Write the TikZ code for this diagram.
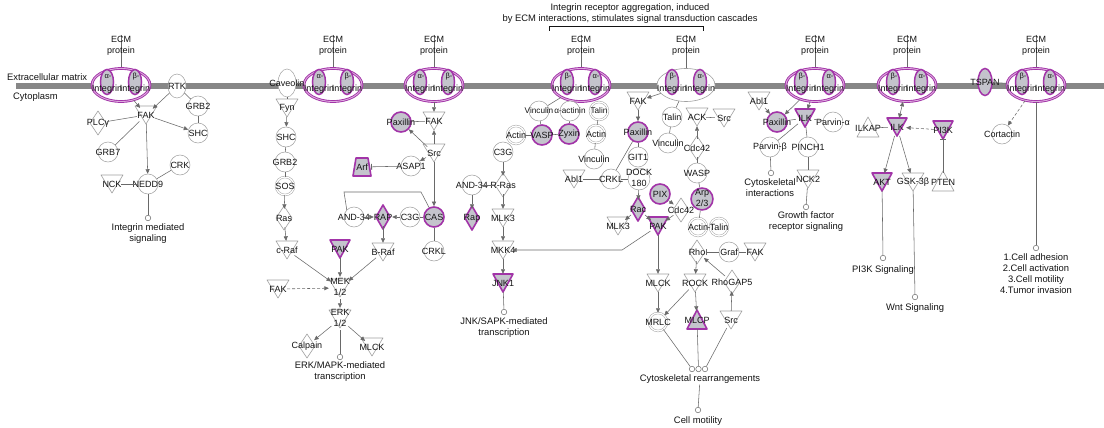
\documentclass[tikz,border=0pt]{standalone}
\usepackage{fontspec}
\setmainfont{Liberation Sans}
\usetikzlibrary{arrows.meta,shapes.geometric,calc}
\pgfdeclarelayer{bg}
\pgfsetlayers{bg,main}

\definecolor{ipapurple}{RGB}{162,52,168}
\definecolor{ipafill}{RGB}{196,196,204}
\definecolor{ipaline}{RGB}{160,160,160}
\definecolor{edgegray}{RGB}{105,105,105}
\definecolor{membr}{RGB}{135,135,135}
\definecolor{txt}{RGB}{20,20,20}
\definecolor{ringmid}{RGB}{222,170,222}

\newcommand\lbfont{\fontsize{9}{11}\selectfont}
\newcommand\fnfont{\fontsize{9.4}{11}\selectfont}
\newcommand\smfont{\fontsize{8.2}{10}\selectfont}
\newcommand\nlab[1]{\makebox[0pt]{#1}}
\newcommand\twol[2]{\makebox[0pt]{\begin{tabular}{@{}c@{}}#1\\#2\end{tabular}}}

\tikzset{
  nbase/.style={circle, inner sep=0pt, minimum size=20pt, font=\lbfont, text=txt},
  circ/.style={nbase, draw=ipaline, line width=0.5pt, fill=white},
  circH/.style={nbase, draw=ipapurple, line width=1.6pt, fill=ipafill},
  dcirc/.style={nbase, draw=ipaline, line width=0.45pt, double=white, double distance=1.3pt, fill=white, minimum size=18pt},
  gnode/.style={nbase, minimum size=18pt},
  fnode/.style={circle, draw=edgegray, fill=white, line width=0.5pt, minimum size=5.5pt, inner sep=0pt},
  ftext/.style={font=\fnfont, align=center, text=txt, inner sep=1pt},
  ln/.style={draw=edgegray, line width=0.55pt},
  act/.style={ln, -{Triangle[length=4.5pt,width=4pt]}},
  actboth/.style={ln, {Triangle[length=4.5pt,width=4pt]}-{Triangle[length=4.5pt,width=4pt]}},
  inh/.style={ln, -{Bar[width=6pt,line width=0.8pt]}},
  indir/.style={act, dash pattern=on 3pt off 2pt},
  gplain/.style={draw=ipaline, line width=0.6pt, fill=white, line join=round},
  gH/.style={draw=ipapurple, line width=1.6pt, fill=ipafill, line join=round},
  ringP/.style={ellipse, minimum width=58pt, minimum height=33pt, inner sep=0pt, draw=ipapurple, line width=0.9pt, double=ringmid, double distance=0.9pt, fill=white},
  ringG/.style={ellipse, minimum width=58pt, minimum height=33pt, inner sep=0pt, draw=ipaline, line width=0.6pt, fill=white},
  ibar/.style={ellipse, minimum width=13pt, minimum height=25pt, inner sep=0pt, draw=ipapurple, line width=1.5pt, fill=ipafill, font=\lbfont, text=txt},
  gk/.style={font=\fontsize{7.5}{8}\selectfont, text=txt, inner sep=0pt},
  itext/.style={font=\lbfont, text=txt, inner sep=0pt},
}

% integrin heterodimer sitting in the membrane, with its ECM ligand above
\newcommand\integ[5]{%
  \begin{scope}[shift={(#2,0)}]
    \node[#5] (#1) at (0,85) {};
    \node[ibar] (#1l) at (-14,82) {};
    \node[ibar] (#1r) at (14,82) {};
    \node[gk] (#1ga) at (-13,77) {#3-};
    \node[gk] (#1gb) at (15,77) {#4-};
    \node[itext] (#1ta) at (-14,89) {Integrin};
    \node[itext] (#1tb) at (14,89) {Integrin};
    \node[ftext, font=\lbfont] (#1e) at (0,45.5) {ECM\\protein};
    \begin{pgfonlayer}{bg}\draw[ln] (#1e.north) -- (#1.north);\end{pgfonlayer}
  \end{scope}}

\begin{document}
\begin{tikzpicture}[x=1pt,y=-1pt]
\useasboundingbox (0,0) rectangle (1104,428);
\begin{pgfonlayer}{bg}
  \fill[white] (0,0) rectangle (1104,428);
  \fill[membr] (16,83) rectangle (1104,89);
\end{pgfonlayer}

% header and bracket
\node[ftext] (hdr) at (630,14) {Integrin receptor aggregation, induced\\by ECM interactions, stimulates signal transduction cascades};
\coordinate (brA) at (549,31);
\coordinate (brB) at (703,31);
\draw[txt, line width=0.9pt] (brA) -- ++(0,-5) -| (brB);

% compartment labels
\node[itext, font=\fnfont, anchor=west] (ecmlab) at (7,77) {Extracellular matrix};
\node[itext, font=\fnfont, anchor=west] (cytlab) at (13,97) {Cytoplasm};

% integrin complexes
\integ{int1}{121}{α}{β}{ringP}
\integ{int2}{333}{α}{β}{ringP}
\integ{int3}{434}{α}{β}{ringP}
\integ{int4}{581}{β}{α}{ringP}
\integ{int5}{686}{β}{α}{ringG}
\integ{int6}{815}{β}{α}{ringP}
\integ{int7}{907}{β}{α}{ringP}
\integ{int8}{1036}{β}{α}{ringP}

% ---- FAK / RTK branch
\node[circ, ellipse, minimum width=18pt, minimum height=24pt] (rtk) at (177,86) {\nlab{RTK}};
\node[circ] (grbA) at (198,106) {\nlab{GRB2}};
\node[circ] (shcA) at (198,133) {\nlab{SHC}};
\node[gnode] (fakA) at (146,115) {\nlab{FAK}};
\node[gnode] (plcg) at (98,123) {\nlab{PLCγ}};
\node[circ] (grb7) at (108,152) {\nlab{GRB7}};
\node[circ] (crk) at (180,165) {\nlab{CRK}};
\node[circ] (nedd9) at (148,184) {\nlab{NEDD9}};
\node[gnode] (nck) at (112,184) {\nlab{NCK}};
\node[fnode] (imsd) at (148,218) {};
\node[ftext] (imst) at (148,233.5) {Integrin mediated\\signaling};

\draw[act] (int1) -- (fakA);
\draw[act] (rtk) -- (fakA);
\draw[ln] (rtk) -- (grbA);
\draw[ln] (grbA) -- (shcA);
\draw[act] (fakA) -- (shcA);
\draw[ln] (fakA) -- (plcg);
\draw[ln] (fakA) -- (grb7);
\draw[act] (fakA) -- (nedd9);
\draw[ln] (crk) -- (nedd9);
\draw[ln] (nck) -- (nedd9);
\draw[ln] (nedd9) -- (imsd);

% ---- Caveolin / ERK branch
\node[circ, ellipse, minimum width=18pt, minimum height=28pt] (cav) at (287,83) {\nlab{Caveolin}};
\node[gnode] (fyn) at (287,108) {\nlab{Fyn}};
\node[circ] (shcB) at (286,137) {\nlab{SHC}};
\node[circ] (grbB) at (285,162) {\nlab{GRB2}};
\node[dcirc] (sos) at (285,186) {\nlab{SOS}};
\node[gnode] (ras) at (284,218) {\nlab{Ras}};
\node[gnode] (craf) at (287,250) {\nlab{c-Raf}};
\node[gnode] (pakA) at (340,249) {\nlab{PAK}};
\node[gnode] (braf) at (383,252) {\nlab{B-Raf}};
\node[gnode] (mek) at (340,288) {\twol{MEK}{1/2}};
\node[gnode] (fakB) at (278,289) {\nlab{FAK}};
\node[gnode] (erk) at (340,319) {\twol{ERK}{1/2}};
\node[gnode] (calp) at (307,346) {\nlab{Calpain}};
\node[gnode] (mlckA) at (372,347) {\nlab{MLCK}};
\node[fnode] (erkd) at (340,357) {};
\node[ftext] (erkt) at (340,372) {ERK/MAPK-mediated\\transcription};

\draw[ln] (int2) -- (cav);
\draw[ln] (cav) -- (fyn);
\draw[act] (fyn) -- (shcB);
\draw[ln] (shcB) -- (grbB);
\draw[ln] (grbB) -- (sos);
\draw[act] (sos) -- (ras);
\draw[act] (ras) -- (craf);
\draw[act] (craf) -- (mek);
\draw[act] (pakA) -- (mek);
\draw[act] (braf) -- (mek);
\draw[indir] (fakB) -- (mek);
\draw[act] (mek) -- (erk);
\draw[act] (erk) -- (calp);
\draw[act] (erk) -- (mlckA);
\draw[ln] (erk) -- (erkd);

% ---- Src / CAS branch
\node[circH] (paxA) at (401,122) {\nlab{Paxillin}};
\node[gnode] (fakC) at (434,121) {\nlab{FAK}};
\node[gnode] (srcA) at (434,153) {\nlab{Src}};
\node[gnode] (arf) at (362,167) {\nlab{Arf}};
\node[circ] (asap) at (411,166) {\nlab{ASAP1}};
\node[circ] (andA) at (354,217) {\nlab{AND-34}};
\node[gnode] (rapA) at (383,217) {\nlab{RAP}};
\node[circ] (c3gA) at (410,217) {\nlab{C3G}};
\node[circH] (cas) at (434,217) {\nlab{CAS}};
\node[circ] (crklA) at (434,251) {\nlab{CRKL}};

\draw[act] (int3) -- (fakC);
\draw[ln] (paxA) -- (fakC);
\draw[act] (srcA) -- (fakC);
\draw[act] (srcA) -- (paxA);
\draw[act] (srcA) -- (asap);
\draw[inh] (asap) -- (arf);
\draw[act] (srcA) -- (cas);
\draw[act] (andA) -- (rapA);
\draw[act] (c3gA) -- (rapA);
\draw[ln] (c3gA) -- (cas);
\draw[ln] (cas) -- (crklA);
\draw[act] (rapA) -- (braf);
\draw[ln] (andA.north west) -- (344,192) -- (421,192) -- (cas);

% ---- R-Ras / JNK branch
\node[circ] (c3gB) at (503,152) {\nlab{C3G}};
\node[circ] (andB) at (472,185) {\nlab{AND-34}};
\node[gnode] (rras) at (503,185) {\nlab{R-Ras}};
\node[gnode] (rapB) at (472,218) {\nlab{Rap}};
\node[gnode] (mlkA) at (503,218) {\nlab{MLK3}};
\node[gnode] (mkk4) at (503,250) {\nlab{MKK4}};
\node[gnode] (jnk1) at (503,283) {\nlab{JNK1}};
\node[fnode] (jnkd) at (504,312) {};
\node[ftext] (jnkt) at (504,327.5) {JNK/SAPK-mediated\\transcription};

\draw[act] (andB) -- (rapB);
\draw[ln] (rras) -- (andB);
\draw[act] (c3gB) -- (rras);
\draw[act] (rras) -- (mlkA);
\draw[act] (mlkA) -- (mkk4);
\draw[act] (mkk4) -- (jnk1);
\draw[ln] (jnk1) -- (jnkd);

% ---- focal adhesion scaffold
\node[circ, font=\smfont] (vinA) at (539,111) {\nlab{Vinculin}};
\node[circ, font=\smfont] (actn) at (570,111) {\nlab{α-actinin}};
\node[dcirc, font=\smfont] (talA) at (599,111) {\nlab{Talin}};
\node[dcirc] (actA) at (516,135) {\nlab{Actin}};
\node[circH] (vasp) at (542,135) {\nlab{VASP}};
\node[circH] (zyx) at (569,134) {\nlab{Zyxin}};
\node[dcirc] (actB) at (596,134) {\nlab{Actin}};
\node[circ] (vinB) at (594,159) {\nlab{Vinculin}};
\node[gnode] (ablA) at (574,179) {\nlab{Abl1}};
\node[circ] (crklB) at (611,179) {\nlab{CRKL}};

\draw[ln] (int4) -- (vinA);
\draw[ln] (vinA) -- (vasp);
\draw[ln] (actA) -- (vasp);
\draw[ln] (vasp) -- (zyx);
\draw[ln] (actn) -- (zyx);
\draw[ln] (talA) -- (actB);
\draw[ln] (actB) -- (vinB);
\draw[ln] (ablA) -- (crklB);

% ---- Paxillin / Rac branch
\node[gnode] (fakD) at (638,101) {\nlab{FAK}};
\node[circH] (paxB) at (638,132) {\nlab{Paxillin}};
\node[circ] (git1) at (638,157) {\nlab{GIT1}};
\node[circ] (dock) at (639,179) {\twol{DOCK}{180}};
\node[circH] (pix) at (660,194) {\nlab{PIX}};
\node[gnode] (rac) at (638,209) {\nlab{Rac}};
\node[gnode] (cdcA) at (681,210) {\nlab{Cdc42}};
\node[gnode] (mlkB) at (618,226) {\nlab{MLK3}};
\node[gnode] (pakB) at (658,226) {\nlab{PAK}};

\draw[act] (int5) -- (fakD);
\draw[act] (fakD) -- (paxB);
\draw[ln] (paxB) -- (git1);
\draw[ln] (paxB) -- (crklB);
\draw[ln] (crklB) -- (dock);
\draw[act] (dock) -- (rac);
\draw[act] (pix) -- (cdcA);
\draw[act] (rac) -- (mlkB);
\draw[act] (rac) -- (pakB);
\draw[act] (cdcA) -- (pakB);
\draw[act] (pakB) -- (622,250) -- (mkk4);

% ---- Talin / Rho branch
\node[circ] (talB) at (672,117) {\nlab{Talin}};
\node[gnode] (ack) at (697,117) {\nlab{ACK}};
\node[gnode] (srcB) at (724,118) {\nlab{Src}};
\node[circ] (vinC) at (668,143) {\nlab{Vinculin}};
\node[gnode] (cdcB) at (697,148) {\nlab{Cdc42}};
\node[circ] (wasp) at (697,173) {\nlab{WASP}};
\node[circH] (arp) at (702,199) {\twol{Arp}{2/3}};
\node[dcirc] (actC) at (698,227) {\nlab{Actin}};
\node[dcirc] (talC) at (719,227) {\nlab{Talin}};
\node[gnode] (rho) at (697,252) {\nlab{Rho}};
\node[circ] (graf) at (729,252) {\nlab{Graf}};
\node[gnode] (fakE) at (755,252) {\nlab{FAK}};
\node[gnode] (rock) at (695,283) {\nlab{ROCK}};
\node[gnode] (rgap) at (732,282) {\nlab{RhoGAP5}};
\node[gnode] (mlckB) at (658,283) {\nlab{MLCK}};
\node[dcirc] (mrlc) at (658,322) {\nlab{MRLC}};
\node[gnode] (mlcp) at (697,320) {\nlab{MLCP}};
\node[gnode] (srcC) at (731,320) {\nlab{Src}};
\node[fnode] (cydA) at (692,369) {};
\node[fnode] (cydB) at (698.5,369) {};
\node[fnode] (cydC) at (705,369) {};
\node[ftext] (cyt) at (700,379) {Cytoskeletal rearrangements};
\node[fnode] (motd) at (698,410) {};
\node[ftext] (mott) at (698,421) {Cell motility};

\draw[ln] (int5) -- (talB);
\draw[ln] (talB) -- (vinC);
\draw[ln] (ack) -- (srcB);
\draw[act] (cdcB) -- (ack);
\draw[ln] (cdcB) -- (wasp);
\draw[ln] (wasp) -- (arp);
\draw[ln] (arp) -- (actC);
\draw[ln] (actC) -- (talC);
\draw[inh] (graf) -- (rho);
\draw[ln] (graf) -- (fakE);
\draw[act] (rgap) -- (rho);
\draw[act] (srcC) -- (rgap);
\draw[act] (rho) -- (rock);
\draw[act] (pakB) -- (mlckB);
\draw[act] (mlckB) -- (mrlc);
\draw[act] (rock) -- (mrlc);
\draw[act] (rock) -- (mlcp);
\draw[ln] (mrlc) -- (cydA);
\draw[ln] (mlcp) -- (cydB);
\draw[ln] (srcC) -- (cydC);
\draw[ln] (cyt) -- (motd);

% ---- ILK / Parvin branch
\node[gnode] (ablB) at (759,101) {\nlab{Abl1}};
\node[circH] (paxC) at (777,122) {\nlab{Paxillin}};
\node[gnode] (ilkA) at (805,118) {\nlab{ILK}};
\node[circ] (parva) at (833,122) {\nlab{Parvin-α}};
\node[circ] (parvb) at (770,147) {\nlab{Parvin-β}};
\node[circ] (pinch) at (808,147) {\nlab{PINCH1}};
\node[fnode] (cid) at (771,173) {};
\node[ftext] (cit) at (770,188) {Cytoskeletal\\interactions};
\node[gnode] (nck2) at (808,179) {\nlab{NCK2}};
\node[fnode] (gfd) at (806,207) {};
\node[ftext] (gft) at (806,221.5) {Growth factor\\receptor signaling};

\draw[act] (ablB) -- (paxC);
\draw[act] (int6) -- (paxC);
\draw[act] (int6) -- (ilkA);
\draw[ln] (paxC) -- (ilkA);
\draw[ln] (ilkA) -- (parva);
\draw[ln] (ilkA) -- (parvb);
\draw[ln] (ilkA) -- (pinch);
\draw[ln] (parvb) -- (cid);
\draw[ln] (pinch) -- (nck2);
\draw[ln] (nck2) -- (gfd);

% ---- ILK / AKT branch
\node[gnode] (ilkap) at (868,128) {\nlab{ILKAP}};
\node[gnode] (ilkB) at (897,127) {\nlab{ILK}};
\node[gnode] (pi3k) at (943,130) {\nlab{PI3K}};
\node[gnode] (akt) at (882,182) {\nlab{AKT}};
\node[gnode] (gsk) at (913,182) {\nlab{GSK-3β}};
\node[gnode] (pten) at (943,182) {\nlab{PTEN}};
\node[fnode] (pikd) at (883,258) {};
\node[ftext] (pikt) at (883,270) {PI3K Signaling};
\node[fnode] (wntd) at (915,297) {};
\node[ftext] (wntt) at (915,308) {Wnt Signaling};

\draw[actboth] (int7) -- (ilkB);
\draw[ln] (ilkap) -- (ilkB);
\draw[indir] (pi3k) -- (ilkB);
\draw[inh] (pten) -- (pi3k);
\draw[act] (ilkB) -- (akt);
\draw[act] (ilkB) -- (gsk);
\draw[ln] (akt) -- (pikd);
\draw[ln] (gsk) -- (wntd);

% ---- TSPAN / Cortactin branch
\node[ibar, minimum width=14pt, minimum height=27pt] (tspan) at (985,82) {\nlab{TSPAN}};
\node[circ] (cort) at (1002,134) {\nlab{Cortactin}};
\node[fnode] (celld) at (1036,248) {};
\node[ftext] (cellt) at (1036,273.5) {1.Cell adhesion\\2.Cell activation\\3.Cell motility\\4.Tumor invasion};

\draw[ln] (tspan) -- (int8);
\draw[indir] (int8) -- (cort);
\draw[ln] (int8) -- (celld);

% ---- molecule-type glyphs behind the labels
\begin{pgfonlayer}{bg}
  % kinases (down triangles)
  \foreach \n in {fakA,nck,fyn,craf,braf,mek,fakB,erk,mlckA,fakC,srcA,mlkA,mkk4,ablA,fakD,mlkB,ack,srcB,fakE,rock,mlckB,srcC,ablB,nck2,gsk}
    \draw[gplain] ($(\n)+(-11,-9)$) -- ($(\n)+(11,-9)$) -- ($(\n)+(0,9)$) -- cycle;
  \foreach \n in {pakA,jnk1,pakB,ilkA,ilkB,akt,pi3k}
    \draw[gH] ($(\n)+(-10,-9)$) -- ($(\n)+(10,-9)$) -- ($(\n)+(0,9)$) -- cycle;
  % phosphatases (up triangles)
  \foreach \n in {ilkap,pten}
    \draw[gplain] ($(\n)+(-11,9)$) -- ($(\n)+(11,9)$) -- ($(\n)+(0,-11)$) -- cycle;
  \foreach \n in {mlcp}
    \draw[gH] ($(\n)+(-10,9)$) -- ($(\n)+(10,9)$) -- ($(\n)+(0,-10)$) -- cycle;
  % enzymes (diamonds)
  \foreach \n in {plcg,ras,calp,rras,cdcA,cdcB,rho,rgap}
    \draw[gplain] ($(\n)+(0,-12)$) -- ($(\n)+(8,0)$) -- ($(\n)+(0,12)$) -- ($(\n)+(-8,0)$) -- cycle;
  \foreach \n in {rapA,rapB,rac}
    \draw[gH] ($(\n)+(0,-12)$) -- ($(\n)+(7,0)$) -- ($(\n)+(0,12)$) -- ($(\n)+(-7,0)$) -- cycle;
  % transporter (trapezoid)
  \draw[gH] ($(arf)+(-9,9)$) -- ($(arf)+(9,9)$) -- ($(arf)+(6,-9)$) -- ($(arf)+(-6,-9)$) -- cycle;
\end{pgfonlayer}
\end{tikzpicture}
\end{document}
